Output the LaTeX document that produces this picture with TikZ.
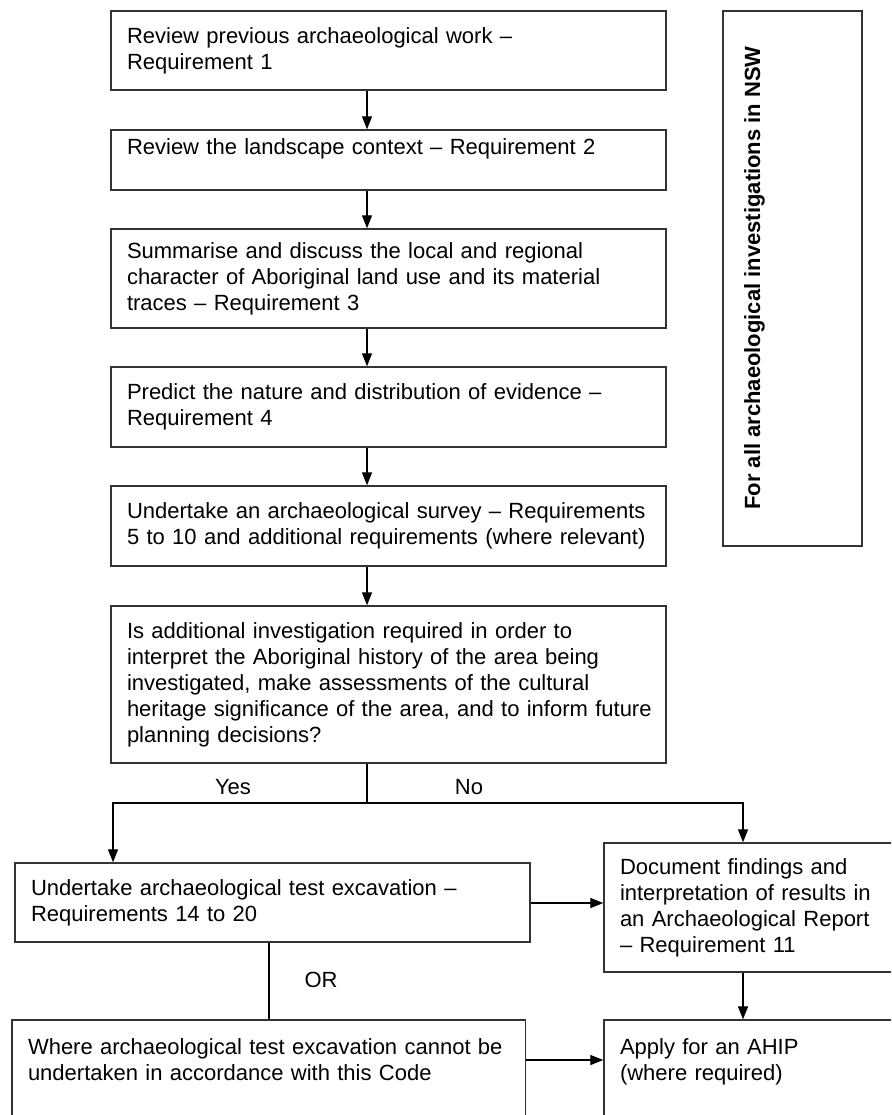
\documentclass[tikz,border=0pt]{standalone}
\usepackage{fontspec}
\setmainfont{Liberation Sans}
\usetikzlibrary{arrows.meta}

\begin{document}
\begin{tikzpicture}[x=1pt,y=-1pt,font=\fontsize{22}{26}\selectfont,
  stepbox/.style={draw=black!80,line width=1.4pt,align=left,inner xsep=16pt,inner ysep=0pt},
  colbox/.style={stepbox,minimum width=555pt,text width=523pt},
  arr/.style={line width=1.3pt,-{Triangle[length=13pt,width=10pt]}},
  link/.style={line width=1.3pt}]
  \useasboundingbox (0,0) rectangle (891,1115);
  \clip (0,0) rectangle (891,1115);
  % main column
  \node[colbox,minimum height=79pt] (review) at (388.5,50.5) {Review previous archaeological work –\\Requirement 1};
  \node[colbox,minimum height=60pt,text depth=27pt] (landscape) at (388.5,160) {Review the landscape context – Requirement 2};
  \node[colbox,minimum height=99pt] (landuse) at (388.5,278.5) {Summarise and discuss the local and regional\\character of Aboriginal land use and its material\\traces – Requirement 3};
  \node[colbox,minimum height=80pt] (predict) at (388.5,407) {Predict the nature and distribution of evidence –\\Requirement 4};
  \node[colbox,minimum height=80pt] (survey) at (388.5,526) {Undertake an archaeological survey – Requirements\\5 to 10 and additional requirements (where relevant)};
  \node[colbox,minimum height=157pt] (question) at (388.5,684.5) {Is additional investigation required in order to\\interpret the Aboriginal history of the area being\\investigated, make assessments of the cultural\\\mbox{heritage significance of the area, and to inform future}\\planning decisions?};
  % side box
  \node[draw=black!80,line width=1.4pt,minimum width=139pt,minimum height=535pt,inner sep=0pt] (allnsw) at (792.5,278.5) {};
  \node[rotate=90,anchor=base,font=\fontsize{22}{26}\selectfont\bfseries] (allnswtext) at (760,278) {For all archaeological investigations in NSW};
  % lower boxes
  \node[stepbox,minimum width=515pt,text width=483pt,minimum height=79pt] (testex) at (272.5,902.5) {Undertake archaeological test excavation –\\Requirements 14 to 20};
  \node[stepbox,minimum width=316pt,text width=284pt,minimum height=129pt] (report) at (762,907.5) {Document findings and\\interpretation of results in\\an Archaeological Report\\– Requirement 11};
  \node[stepbox,minimum width=513.5pt,text width=481.5pt,minimum height=160pt,text depth=107.5pt] (cannot) at (268.75,1100) {Where archaeological test excavation cannot be\\undertaken in accordance with this Code};
  \node[stepbox,minimum width=316pt,text width=284pt,minimum height=160pt,text depth=107.5pt] (ahip) at (762,1100) {Apply for an AHIP\\(where required)};
  % labels
  \node (yes) at (233,787) {Yes};
  \node (no) at (469,787) {No};
  \node (or) at (321,980) {OR};
  % connectors
  \coordinate (spine) at (367,0);
  \coordinate (fork) at (367,803);
  \coordinate (yesdrop) at (113,803);
  \coordinate (nodrop) at (743,803);
  \coordinate (orline) at (269,0);
  \coordinate (testrow) at (0,903);
  \coordinate (altrow) at (0,1060);
  \draw[arr] (review.south -| spine) -- (landscape.north -| spine);
  \draw[arr] (landscape.south -| spine) -- (landuse.north -| spine);
  \draw[arr] (landuse.south -| spine) -- (predict.north -| spine);
  \draw[arr] (predict.south -| spine) -- (survey.north -| spine);
  \draw[arr] (survey.south -| spine) -- (question.north -| spine);
  \draw[link] (question.south -| spine) -- (fork);
  \draw[arr] (fork) -- (yesdrop) -- (testex.north -| yesdrop);
  \draw[arr] (fork) -- (nodrop) -- (report.north -| nodrop);
  \draw[arr] (testex.east |- testrow) -- (report.west |- testrow);
  \draw[link] (testex.south -| orline) -- (cannot.north -| orline);
  \draw[arr] (report.south -| nodrop) -- (ahip.north -| nodrop);
  \draw[arr] (cannot.east |- altrow) -- (ahip.west |- altrow);
\end{tikzpicture}
\end{document}
